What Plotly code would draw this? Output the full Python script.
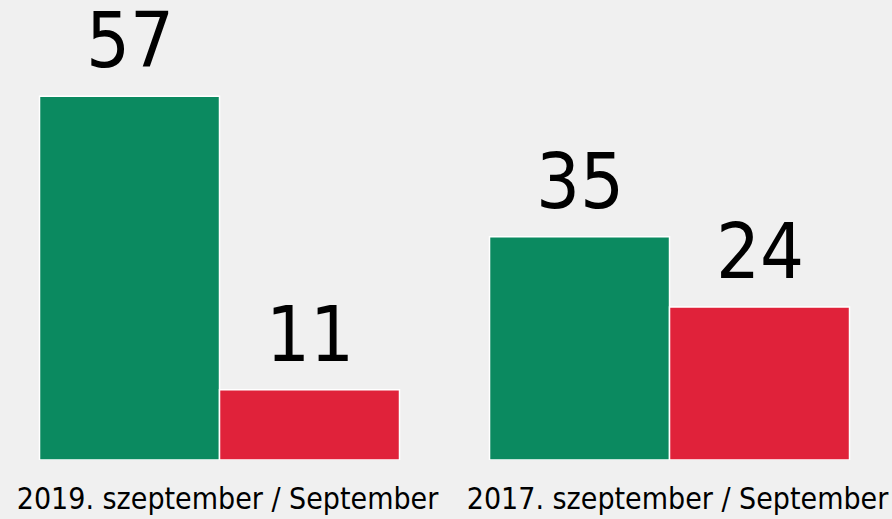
import plotly.graph_objects as go

categories = ["2019. szeptember / September", "2017. szeptember / September"]
green_values = [57, 35]
red_values = [11, 24]

GREEN = "#0b8a60"
RED = "#e0223a"
BG = "#f0f0f0"
FONT = "DejaVu Sans Condensed, Liberation Sans Narrow, Arial Narrow, sans-serif"

fig = go.Figure()
fig.add_trace(go.Bar(x=categories, y=green_values, marker=dict(color=GREEN, line=dict(color="white", width=1.5)),
                     offsetgroup="a", hoverinfo="skip"))
fig.add_trace(go.Bar(x=categories, y=red_values, marker=dict(color=RED, line=dict(color="white", width=1.5)),
                     offsetgroup="b", hoverinfo="skip"))

annotations = []
for i, c in enumerate(categories):
    for off, v in ((-0.2, green_values[i]), (0.2, red_values[i])):
        annotations.append(dict(x=i + off, y=v, xref="x", yref="y", text=str(v), showarrow=False,
                                yanchor="bottom", yshift=9,
                                font=dict(family=FONT, size=77, color="black")))

fig.update_layout(
    width=892, height=519,
    margin=dict(l=0, r=0, t=0, b=59, autoexpand=False),
    paper_bgcolor=BG, plot_bgcolor=BG,
    barmode="group", bargap=0.2, bargroupgap=0,
    showlegend=False,
    annotations=annotations,
    font=dict(family=FONT, color="black"),
)
fig.update_xaxes(range=[-0.4878, 1.4944], showgrid=False, zeroline=False, showline=False, ticks="",
                 tickangle=0, automargin=False, ticklabelstandoff=18, ticklabelshift=8,
                 tickfont=dict(family=FONT, size=30, color="black"))
fig.update_yaxes(range=[0, 72.1], visible=False, automargin=False)

fig.write_html("out.html", config={"displayModeBar": False},
               post_script="document.body.style.margin='0';document.body.style.background='%s';" % BG)
